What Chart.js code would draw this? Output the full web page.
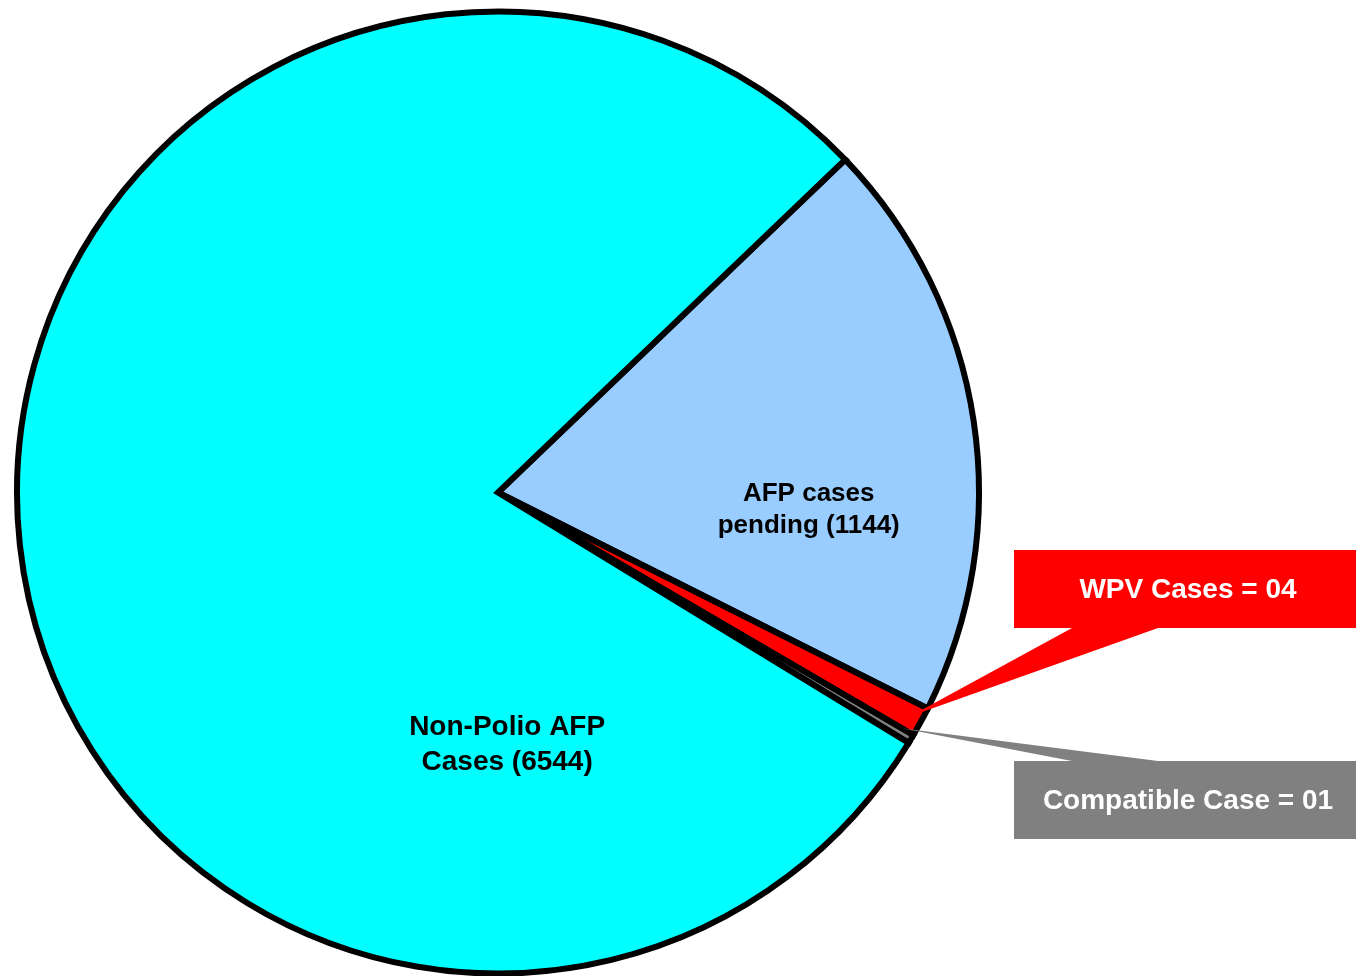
<!DOCTYPE html>
<html>
<head>
<meta charset="utf-8">
<script src="https://cdn.jsdelivr.net/npm/chart.js@4/dist/chart.umd.min.js"></script>
<style>
  html, body { margin: 0; padding: 0; background: #ffffff; }
  #wrap { width: 1356px; height: 976px; position: relative; }
</style>
</head>
<body>
<div id="wrap"><canvas id="c" width="1356" height="976"></canvas></div>
<script>
// Categories (clockwise from the top-right boundary)
const categories = ["AFP cases pending", "WPV Cases", "Compatible Case", "Non-Polio AFP Cases"];
// Case counts as printed on the chart
const caseCounts = [1144, 4, 1, 6544];
// Slice shares (%) as drawn in the picture
const sliceShares = [19.58, 1.0, 0.3, 79.12];
// Slice colours
const sliceColors = ["#99CCFF", "#FF0000", "#808080", "#00FFFF"];
// Text shown in/next to slices
const sliceLabels = [
  ["AFP cases", "pending (" + caseCounts[0] + ")"],
  null,
  null,
  ["Non-Polio AFP", "Cases (" + caseCounts[3] + ")"]
];
const calloutTexts = ["WPV Cases = 04", "Compatible Case = 01"];

const FONT = '"Liberation Sans", Arial, Helvetica, sans-serif';

const labelPlugin = {
  id: 'labelsAndCallouts',
  afterDatasetsDraw(chart) {
    const ctx = chart.ctx;
    const meta = chart.getDatasetMeta(0);
    const arcs = meta.data;
    const cx = arcs[0].x, cy = arcs[0].y, R = arcs[0].outerRadius;

    // in-slice labels
    const inPos = [[0.646, 0.035, 26, 32], null, null, [0.019, 0.525, 28, 35]];
    ctx.save();
    ctx.fillStyle = '#000000';
    ctx.textAlign = 'center';
    ctx.textBaseline = 'middle';
    sliceLabels.forEach((lines, i) => {
      if (!lines) return;
      const p = inPos[i];
      ctx.font = 'bold ' + p[2] + 'px ' + FONT;
      const x = cx + p[0] * R, y = cy + p[1] * R;
      lines.forEach((t, k) => {
        ctx.fillText(t, x, y + (k - (lines.length - 1) / 2) * p[3]);
      });
    });

    // callouts
    const pt = (ang, f) => [cx + Math.cos(ang) * R * f, cy + Math.sin(ang) * R * f];
    const redArc = arcs[1], grayArc = arcs[2];
    const redTip = pt((redArc.startAngle + redArc.endAngle) / 2, 0.975);
    const grayTip = pt(grayArc.startAngle, 0.972);

    const boxes = [
      {x: 1014, y: 550, w: 342, h: 78, color: '#FF0000', tip: redTip, base: [[1072, 628], [1158, 628]]},
      {x: 1014, y: 761, w: 342, h: 78, color: '#808080', tip: grayTip, base: [[1072, 761], [1158, 761]]}
    ];
    boxes.forEach((b, i) => {
      ctx.fillStyle = b.color;
      ctx.beginPath();
      ctx.moveTo(b.base[0][0], b.base[0][1]);
      ctx.lineTo(b.tip[0], b.tip[1]);
      ctx.lineTo(b.base[1][0], b.base[1][1]);
      ctx.closePath();
      ctx.fill();
      ctx.fillRect(b.x, b.y, b.w, b.h);
      ctx.fillStyle = '#FFFFFF';
      ctx.font = 'bold 28px ' + FONT;
      ctx.textAlign = 'center';
      ctx.textBaseline = 'middle';
      ctx.fillText(calloutTexts[i], b.x + 174, b.y + b.h / 2 + 1);
    });
    ctx.restore();
  }
};

new Chart(document.getElementById('c'), {
  type: 'pie',
  data: {
    labels: categories,
    datasets: [{
      data: sliceShares,
      backgroundColor: sliceColors,
      borderColor: '#000000',
      borderWidth: 6,
      borderJoinStyle: 'miter',
      clip: false
    }]
  },
  options: {
    responsive: false,
    animation: false,
    devicePixelRatio: 1,
    rotation: 46.2,
    radius: 481,
    layout: { padding: { left: 0, right: 360, top: 9, bottom: 0 } },
    plugins: {
      legend: { display: false },
      tooltip: { enabled: false }
    }
  },
  plugins: [labelPlugin]
});
</script>
</body>
</html>
